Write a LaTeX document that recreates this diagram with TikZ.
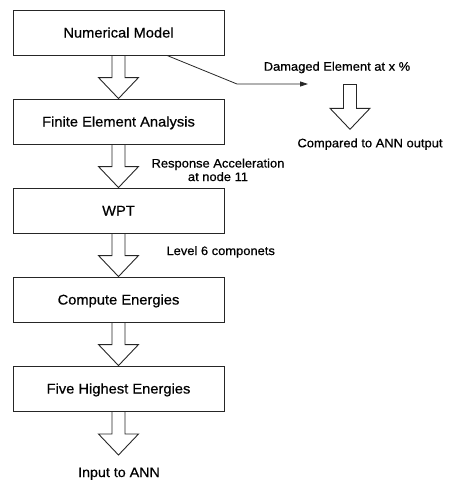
\documentclass[tikz,border=0pt]{standalone}
\usepackage{fontspec}
\setmainfont{Liberation Sans}[FakeStretch=1.05,FakeBold=0.6]
\usetikzlibrary{arrows.meta,calc}
\newcommand\blockarr[3][]{%
  \draw[barrow,#1] let \p1=(#2), \p2=(#3) in
    (\x1-6.5pt,\y1) -- (\x1-6.5pt,\y2+21pt) -- (\x1-20pt,\y2+21pt) -- (\x2,\y2)
    -- (\x1+20pt,\y2+21pt) -- (\x1+6.5pt,\y2+21pt) -- (\x1+6.5pt,\y1);}
\begin{document}
\begin{tikzpicture}[x=1pt,y=-1pt,
  stepbox/.style={draw=black!85,line width=0.9pt,minimum width=211pt,minimum height=45pt,
    inner sep=0pt,text height=10pt,text depth=0pt,font=\fontsize{14}{16}\selectfont},
  lbl/.style={inner sep=0pt,anchor=base,font=\fontsize{12.3}{14}\selectfont},
  barrow/.style={draw=black!85,line width=0.9pt,line join=miter},
  thin/.style={draw=black!85,line width=0.8pt}]
\useasboundingbox (0,0) rectangle (456,483);
\node[stepbox] (b1) at (118.5,32.5) {Numerical Model};
\node[stepbox] (b2) at (118.5,121.5) {Finite Element Analysis};
\node[stepbox] (b3) at (118.5,210.5) {WPT};
\node[stepbox] (b4) at (118.5,299.5) {Compute Energies};
\node[stepbox] (b5) at (118.5,388.5) {Five Highest Energies};
\node[lbl] (dmg) at (337,70.7) {Damaged Element at x \%};
\node[lbl] (cmp) at (370,147.3) {Compared to ANN output};
\node[lbl] (resp) at (218,167.5) {Response Acceleration};
\node[lbl] (resp2) at (218,181) {at node 11};
\node[lbl] (lvl) at (220.7,255) {Level 6 componets};
\node[lbl,font=\fontsize{13.6}{15}\selectfont] (inp) at (119,477) {Input to ANN};
\blockarr{b1.south}{b2.north}
\blockarr{b2.south}{b3.north}
\blockarr{b3.south}{b4.north}
\blockarr{b4.south}{b5.north}
\coordinate (inTip) at (118.5,455);
\blockarr{b5.south}{inTip}
\coordinate (dTop) at (350,84);
\coordinate (dTip) at (350,129.3);
\blockarr[]{dTop}{dTip}
\draw[barrow] ($(dTop)+(-6.5,0)$) -- ($(dTop)+(6.5,0)$);
\coordinate (bend) at (237,84);
\coordinate (dEnd) at (308,84);
\draw[thin,-{Triangle[length=8pt,width=5pt]}] ($(b1.south)+(48.5,0)$) -- (bend) -- (dEnd);
\end{tikzpicture}
\end{document}
